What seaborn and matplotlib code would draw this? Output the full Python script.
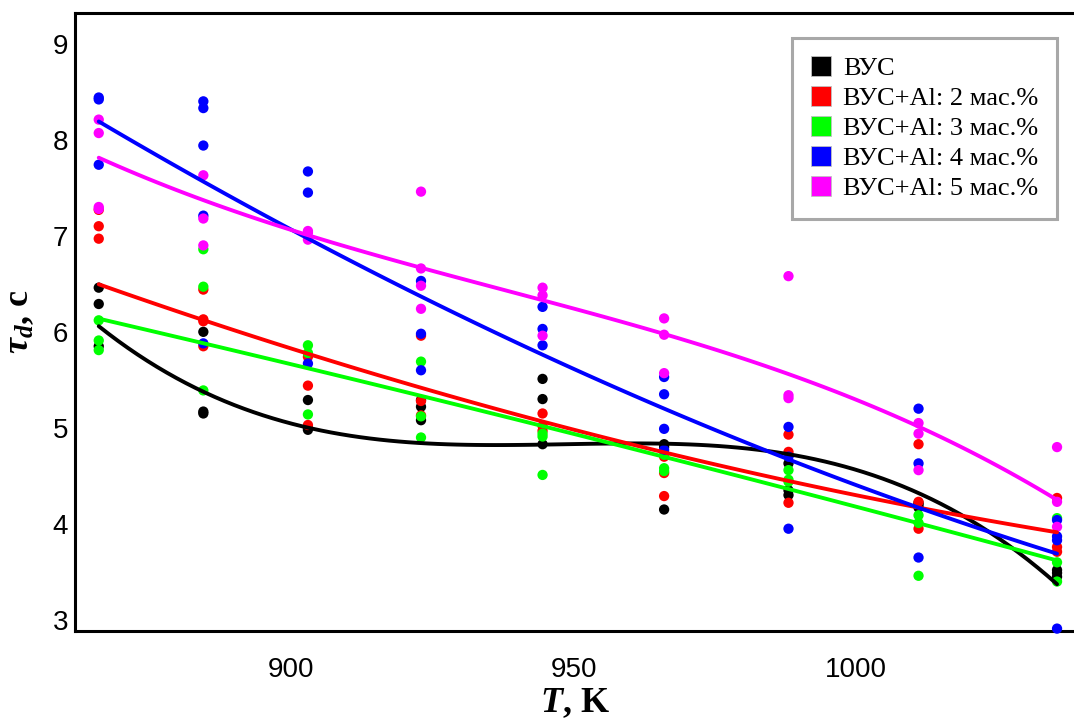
import numpy as np
import pandas as pd
import matplotlib
matplotlib.use('Agg')
from matplotlib import pyplot as plt
from matplotlib.lines import Line2D
from matplotlib.ticker import MultipleLocator
import seaborn as sns

# temperatures, K
temps = [866, 884.5, 903, 923, 944.5, 966, 988, 1011, 1035.5]

# tau_d, s -- measured points per temperature
vus = [[6.46, 6.29, 5.85], [6.00, 5.17, 5.15], [5.29, 5.00, 4.98],
       [5.29, 5.22, 5.08], [5.51, 5.30, 4.83], [4.83, 4.80, 4.15],
       [4.63, 4.35, 4.30], [4.22, 4.20, 4.17], [3.52, 3.49, 3.45]]
al2 = [[7.27, 7.10, 6.97], [6.44, 6.13, 6.11, 5.85], [5.74, 5.44, 5.03],
       [5.96, 5.28, 5.13], [5.15, 5.02, 4.97], [4.70, 4.53, 4.29],
       [4.93, 4.75, 4.22], [4.83, 4.23, 3.95], [4.27, 3.76, 3.71]]
al3 = [[6.12, 5.91, 5.81], [6.86, 6.47, 5.39], [5.86, 5.78, 5.14],
       [5.69, 5.12, 4.90], [4.94, 4.91, 4.51], [4.72, 4.58, 4.55],
       [4.56, 4.46, 4.44], [4.09, 4.01, 3.46], [4.06, 3.60, 3.40]]
al4 = [[8.44, 8.42, 7.74], [8.40, 8.33, 7.94, 7.21, 5.88], [7.67, 7.45, 5.67],
       [6.53, 5.98, 5.60], [6.26, 6.03, 5.86], [5.53, 5.35, 4.99, 4.77],
       [5.01, 4.70, 3.95], [5.20, 4.63, 3.65], [4.04, 3.87, 3.83, 2.91]]
al5 = [[8.21, 8.07, 7.30, 7.28], [7.63, 7.18, 6.90], [7.05, 7.03, 6.96],
       [7.46, 6.66, 6.48, 6.24], [6.46, 6.38, 5.96], [6.14, 5.97, 5.57],
       [6.58, 5.34, 5.31], [5.05, 4.94, 4.56], [4.80, 4.23, 3.97]]

fit_vus = [6.06, 5.38, 4.99, 4.85, 4.82, 4.84, 4.74, 4.30, 3.38]
fit_al2 = [6.55, 6.08, 5.74, 5.41, 5.06, 4.74, 4.50, 4.20, 3.87]
fit_al3 = [6.12, 5.87, 5.67, 5.36, 4.98, 4.66, 4.39, 4.01, 3.62]
fit_al4 = [8.28, 7.52, 6.92, 6.30, 5.74, 5.24, 4.75, 4.24, 3.60]
fit_al5 = [7.81, 7.38, 7.00, 6.67, 6.33, 5.97, 5.57, 5.01, 4.25]

names = ['ВУС', 'ВУС+Al: 2 мас.%', 'ВУС+Al: 3 мас.%', 'ВУС+Al: 4 мас.%', 'ВУС+Al: 5 мас.%']
series = [vus, al2, al3, al4, al5]
fits = [fit_vus, fit_al2, fit_al3, fit_al4, fit_al5]
colors = ['#000000', '#ff0000', '#00ff00', '#0000ff', '#ff00ff']
fit_order = [3, 2, 2, 2, 3]

rows = []
for name, s in zip(names, series):
    for t, vals in zip(temps, s):
        for v in vals:
            rows.append((name, t, v))
df = pd.DataFrame(rows, columns=['sample', 'T', 'tau'])

sns.set_style('white')
plt.rcParams['font.family'] = ['Liberation Sans', 'DejaVu Sans']
plt.rcParams['mathtext.fontset'] = 'custom'
plt.rcParams['mathtext.it'] = 'Liberation Serif:italic:bold'
plt.rcParams['mathtext.rm'] = 'Liberation Serif:bold'
plt.rcParams['text.color'] = 'black'
plt.rcParams['xtick.color'] = 'black'
plt.rcParams['ytick.color'] = 'black'
plt.rcParams['axes.labelcolor'] = 'black'

fig = plt.figure(figsize=(10.74, 7.19), dpi=100)
ax = fig.add_axes([75 / 1074, 1 - 631 / 719, 1 - 75 / 1074, (631 - 13) / 719])

sns.scatterplot(data=df, x='T', y='tau', hue='sample', palette=colors, hue_order=names,
                s=55, linewidth=0, legend=False, ax=ax, zorder=3, clip_on=False)
for f, c, k in zip(fits, colors, fit_order):
    sns.regplot(x=temps, y=f, order=k, scatter=False, ci=None, truncate=True,
                color=c, line_kws=dict(lw=2.8, zorder=4), ax=ax)

ax.set_xlim(861.8, 1038.5)
ax.set_ylim(2.885, 9.32)
ax.xaxis.set_major_locator(MultipleLocator(50))
ax.xaxis.set_minor_locator(MultipleLocator(10))
ax.yaxis.set_major_locator(MultipleLocator(1))
ax.yaxis.set_minor_locator(MultipleLocator(0.2))
ax.tick_params(which='both', direction='in', color='#909090', labelcolor='black', labelsize=20)
ax.tick_params(which='major', length=6, width=1.2)
ax.tick_params(which='minor', length=4, width=1.0)
ax.tick_params(axis='x', which='both', pad=19)
ax.tick_params(axis='y', which='both', pad=5)
ax.tick_params(axis='both', which='both', top=False, right=False)
for side in ['left', 'bottom', 'top']:
    ax.spines[side].set_linewidth(2.2)
    ax.spines[side].set_color('black')
ax.spines['right'].set_visible(False)

ax.set_xlabel(r'$T$, K', fontsize=26, fontfamily='Liberation Serif', fontweight='bold', labelpad=2)
ax.set_ylabel(r'$\tau_d$, c', fontsize=26, fontfamily='Liberation Serif', fontweight='bold', labelpad=12)

handles = [Line2D([], [], marker='s', linestyle='none', markersize=14, markerfacecolor=c,
                  markeredgecolor='#c0c0c0', markeredgewidth=0.6) for c in colors]
leg = ax.legend(handles, names, loc='upper right', bbox_to_anchor=(1057 / 1074, 1 - 38 / 719),
                bbox_transform=fig.transFigure, frameon=True, fancybox=False, framealpha=1,
                prop={'family': 'Liberation Serif', 'size': 19}, labelspacing=0.25,
                handletextpad=0.45, handlelength=0.8, borderpad=0.7, borderaxespad=0)
leg.get_frame().set_edgecolor('#a8a8a8')
leg.get_frame().set_linewidth(2.2)

fig.savefig('out.png', dpi=100)
